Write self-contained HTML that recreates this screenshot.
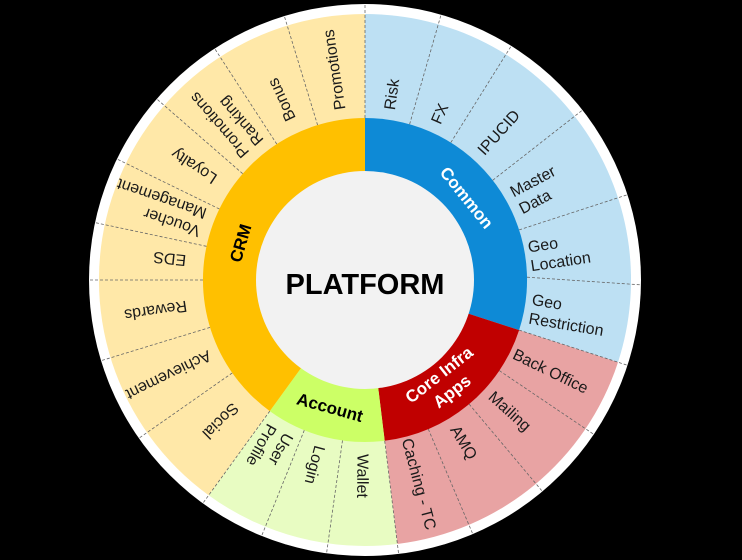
<!DOCTYPE html>
<html><head><meta charset="utf-8"><style>
html,body{margin:0;padding:0;background:#000;}
svg{display:block;}
.s{font-family:"Liberation Sans",sans-serif;font-size:16px;fill:#1a1a1a;}
.m{font-family:"Liberation Sans",sans-serif;font-size:17px;font-weight:bold;text-anchor:middle;}
</style></head><body>
<svg width="742" height="560" viewBox="0 0 742 560" xmlns="http://www.w3.org/2000/svg">
<rect width="742" height="560" fill="#000"/>
<circle cx="365" cy="280" r="276" fill="#fff"/>
<path d="M365 280 L365 14 A266 266 0 0 1 618.0 362.2 Z" fill="#BDE0F3"/>
<path d="M365 280 L618.0 362.2 A266 266 0 0 1 397.4 544.0 Z" fill="#E8A3A3"/>
<path d="M365 280 L397.4 544.0 A266 266 0 0 1 208.6 495.2 Z" fill="#E8FCC2"/>
<path d="M365 280 L208.6 495.2 A266 266 0 0 1 365 14 Z" fill="#FFE8A8"/>
<g stroke="#666" stroke-width="0.8" stroke-dasharray="3,2">
<line x1="365" y1="118" x2="365" y2="5"/>
<line x1="409.6" y1="124.3" x2="440.8" y2="15.6"/>
<line x1="450.8" y1="142.6" x2="510.7" y2="46.8"/>
<line x1="492.7" y1="180.3" x2="581.7" y2="110.7"/>
<line x1="519.1" y1="229.9" x2="626.6" y2="195.0"/>
<line x1="527.0" y1="277.2" x2="640.0" y2="284.8"/>
<line x1="519.1" y1="330.1" x2="626.6" y2="365.0"/>
<line x1="499.3" y1="370.6" x2="593.0" y2="433.8"/>
<line x1="469.1" y1="404.1" x2="541.8" y2="490.7"/>
<line x1="428.3" y1="429.1" x2="472.4" y2="533.1"/>
<line x1="384.7" y1="440.8" x2="398.5" y2="552.9"/>
<line x1="342.5" y1="440.4" x2="326.7" y2="552.3"/>
<line x1="304.3" y1="430.2" x2="262.0" y2="535.0"/>
<line x1="269.8" y1="411.1" x2="203.4" y2="502.5"/>
<line x1="232.3" y1="372.9" x2="139.7" y2="437.7"/>
<line x1="210.1" y1="327.4" x2="102.0" y2="360.4"/>
<line x1="203" y1="280" x2="90" y2="280"/>
<line x1="206.5" y1="246.3" x2="96.0" y2="222.8"/>
<line x1="219.4" y1="209.0" x2="117.8" y2="159.4"/>
<line x1="242.7" y1="173.7" x2="157.5" y2="99.6"/>
<line x1="276.8" y1="144.1" x2="215.2" y2="49.4"/>
<line x1="317.6" y1="125.1" x2="284.6" y2="17.0"/>
</g>
<path d="M365 280 L365 118 A162 162 0 0 1 519.1 330.1 Z" fill="#0E8AD6"/>
<path d="M365 280 L519.1 330.1 A162 162 0 0 1 384.7 440.8 Z" fill="#C00000"/>
<path d="M365 280 L384.7 440.8 A162 162 0 0 1 269.8 411.1 Z" fill="#CCFF66"/>
<path d="M365 280 L269.8 411.1 A162 162 0 0 1 365 118 Z" fill="#FFC000"/>
<circle cx="365" cy="280" r="109" fill="#F2F2F2"/>
<text x="365" y="294" text-anchor="middle" font-family="Liberation Sans, sans-serif" font-size="29" font-weight="bold" fill="#000">PLATFORM</text>
<g transform="translate(365,280) rotate(51)"><text class="m" x="0" y="-125" fill="#fff">Common</text></g>
<g transform="translate(365,280) rotate(286.5)"><text class="m" x="0" y="-124" fill="#000">CRM</text></g>
<g transform="translate(365,280) rotate(15.4)"><text class="m" x="0" y="138" fill="#000">Account</text></g>
<g transform="translate(365,280) rotate(-38)"><text class="m" x="0" y="126" fill="#fff">Core Infra</text><text class="m" x="0" y="147" fill="#fff">Apps</text></g>
<g class="s">
<text transform="translate(365,280) rotate(-82)" x="172" y="6">Risk</text>
<text transform="translate(365,280) rotate(-66)" x="172" y="6">FX</text>
<text transform="translate(365,280) rotate(-48)" x="172" y="6">IPUCID</text>
<text transform="translate(365,280) rotate(-28)" x="170" y="-3">Master<tspan x="170" y="16">Data</tspan></text>
<text transform="translate(365,280) rotate(-8.5)" x="166" y="-3">Geo<tspan x="166" y="16">Location</tspan></text>
<text transform="translate(365,280) rotate(9.5)" x="168" y="-3">Geo<tspan x="168" y="16">Restriction</tspan></text>
<text transform="translate(365,280) rotate(26)" x="166" y="6">Back Office</text>
<text transform="translate(365,280) rotate(42)" x="170" y="6">Mailing</text>
<text transform="translate(365,280) rotate(58.5)" x="172" y="6">AMQ</text>
<text transform="translate(365,280) rotate(75)" x="164" y="6">Caching - TC</text>
<text transform="translate(365,280) rotate(90.5)" x="174" y="6">Wallet</text>
<text transform="translate(365,280) rotate(105)" x="172" y="6">Login</text>
<text transform="translate(365,280) rotate(119)" x="172" y="-3">User<tspan x="172" y="16">Profile</tspan></text>
<text transform="translate(365,280) rotate(135.5)" x="180" y="6">Social</text>
<text transform="translate(365,280) rotate(154)" x="172" y="6">Achievement</text>
<text transform="translate(365,280) rotate(171.5)" x="180" y="6">Rewards</text>
<text transform="translate(365,280) rotate(186)" x="180" y="6">EDS</text>
<text transform="translate(365,280) rotate(199)" x="172" y="-3">Voucher<tspan x="172" y="16">Management</tspan></text>
<text transform="translate(365,280) rotate(213.5)" x="180" y="6">Loyalty</text>
<text transform="translate(365,280) rotate(229)" x="172" y="-3">Promotions<tspan x="172" y="16">Ranking</tspan></text>
<text transform="translate(365,280) rotate(245)" x="176" y="6">Bonus</text>
<text transform="translate(365,280) rotate(261.5)" x="172" y="6">Promotions</text>
</g>
</svg>
</body></html>
